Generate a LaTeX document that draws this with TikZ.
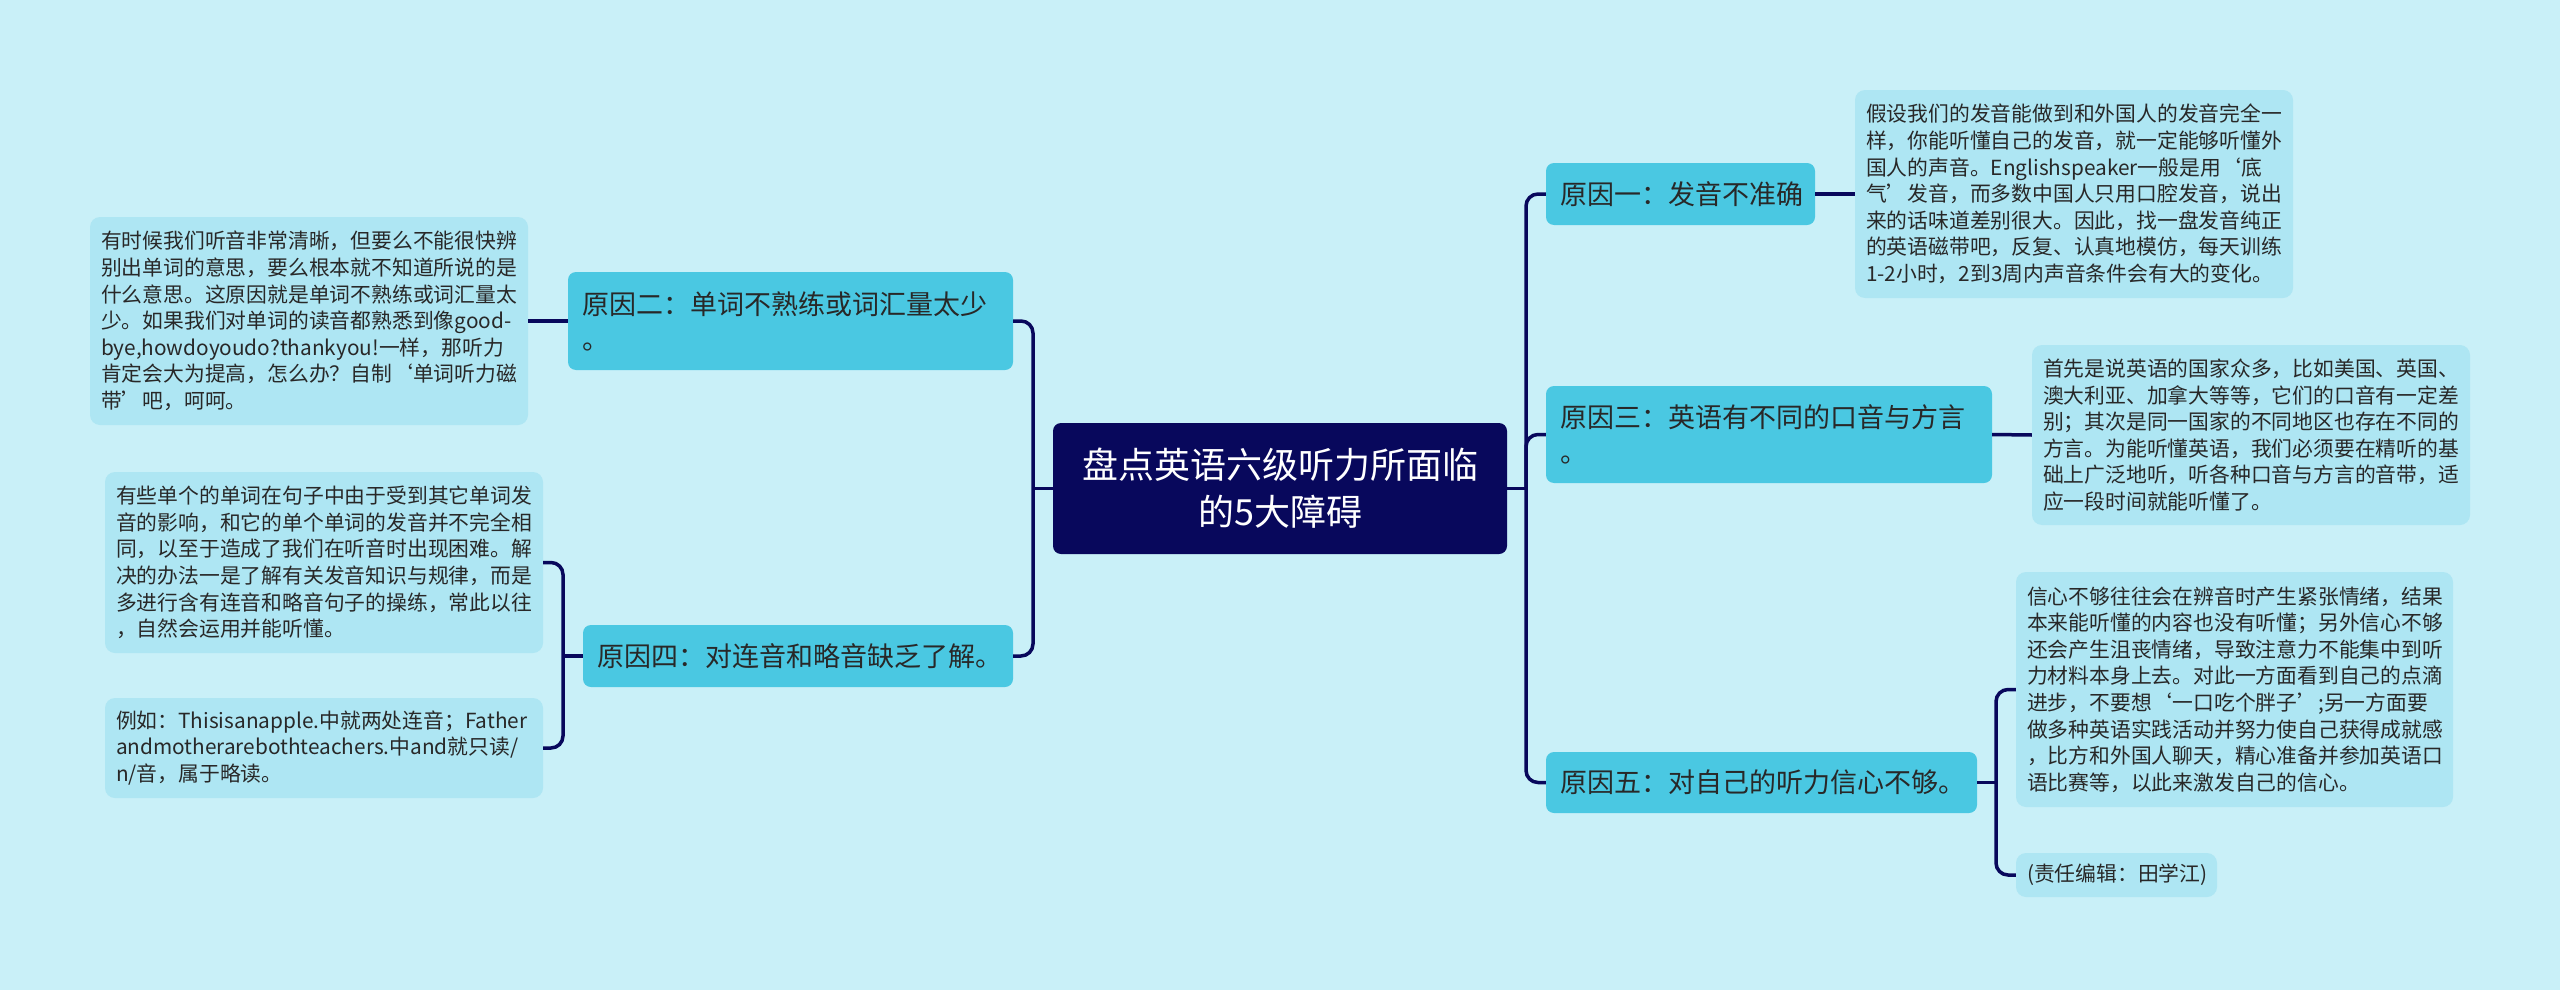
\documentclass[tikz,border=0pt]{standalone}
\usepackage{fontspec}
\setmainfont{Noto Sans CJK SC}
\definecolor{bgc}{RGB}{201,240,248}
\definecolor{lvone}{RGB}{74,200,226}
\definecolor{leafc}{RGB}{174,230,243}
\definecolor{navy}{RGB}{8,8,92}
\definecolor{txt}{RGB}{40,40,40}
\begin{document}
\begin{tikzpicture}[x=1pt,y=-1pt,
  conn/.style={draw=navy,line width=3.5pt},
  centerbox/.style={fill=navy,rounded corners=8pt,inner sep=0pt,text=white,align=center,
    font=\fontsize{36}{47}\selectfont},
  lvbox/.style={fill=lvone,rounded corners=8pt,inner sep=0pt,text=txt,align=left,
    font=\fontsize{27}{35}\selectfont},
  leafbox/.style={fill=leafc,rounded corners=10pt,inner sep=0pt,text=txt,align=left,
    font=\fontsize{20.8}{26.6}\selectfont},
  sz/.style 2 args={minimum width=#1pt,minimum height=#2pt},
]
\fill[bgc] (0,0) rectangle (2560,990);
\useasboundingbox (0,0) rectangle (2560,990);

% central
\node[centerbox,sz={454}{131},text width=430pt] (c) at (1280,488.5)
  {盘点英语六级听力所面临\\的5大障碍};

% level one
\node[lvbox,sz={269}{62},text width=241pt] (r1) at (1680.5,194) {原因一：发音不准确};
\node[lvbox,sz={446}{97},text width=418pt] (r3) at (1769,434.5) {原因三：英语有不同的口音与方言\\。};
\node[lvbox,sz={431}{61},text width=403pt] (r5) at (1761.5,782.5) {原因五：对自己的听力信心不够。};
\node[lvbox,sz={445}{98},text width=417pt] (r2) at (790.5,321) {原因二：单词不熟练或词汇量太少\\。};
\node[lvbox,sz={430}{62},text width=402pt] (r4) at (798,656) {原因四：对连音和略音缺乏了解。};

% leaves
\node[leafbox,sz={438}{208},text width=416pt] (l1) at (2074,194)
  {假设我们的发音能做到和外国人的发音完全一\\样，你能听懂自己的发音，就一定能够听懂外\\国人的声音。Englishspeaker一般是用‘底\\气’发音，而多数中国人只用口腔发音，说出\\来的话味道差别很大。因此，找一盘发音纯正\\的英语磁带吧，反复、认真地模仿，每天训练\\1-2小时，2到3周内声音条件会有大的变化。};
\node[leafbox,sz={438}{180},text width=416pt] (l3) at (2251,435)
  {首先是说英语的国家众多，比如美国、英国、\\澳大利亚、加拿大等等，它们的口音有一定差\\别；其次是同一国家的不同地区也存在不同的\\方言。为能听懂英语，我们必须要在精听的基\\础上广泛地听，听各种口音与方言的音带，适\\应一段时间就能听懂了。};
\node[leafbox,sz={437}{235},text width=415pt] (l5a) at (2234.5,689.5)
  {信心不够往往会在辨音时产生紧张情绪，结果\\本来能听懂的内容也没有听懂；另外信心不够\\还会产生沮丧情绪，导致注意力不能集中到听\\力材料本身上去。对此一方面看到自己的点滴\\进步，不要想‘一口吃个胖子’;另一方面要\\做多种英语实践活动并努力使自己获得成就感\\，比方和外国人聊天，精心准备并参加英语口\\语比赛等，以此来激发自己的信心。};
\node[leafbox,sz={201}{44},text width=179pt] (l5b) at (2116.5,875) {(责任编辑：田学江)};
\node[leafbox,sz={438}{208},text width=416pt] (l2) at (309,321)
  {有时候我们听音非常清晰，但要么不能很快辨\\别出单词的意思，要么根本就不知道所说的是\\什么意思。这原因就是单词不熟练或词汇量太\\少。如果我们对单词的读音都熟悉到像good-\\bye,howdoyoudo?thankyou!一样，那听力\\肯定会大为提高，怎么办？自制‘单词听力磁\\带’吧，呵呵。};
\node[leafbox,sz={438}{181},text width=416pt] (l4a) at (324,562.5)
  {有些单个的单词在句子中由于受到其它单词发\\音的影响，和它的单个单词的发音并不完全相\\同，以至于造成了我们在听音时出现困难。解\\决的办法一是了解有关发音知识与规律，而是\\多进行含有连音和略音句子的操练，常此以往\\，自然会运用并能听懂。};
\node[leafbox,sz={438}{100},text width=416pt] (l4b) at (324,748)
  {例如：Thisisanapple.中就两处连音；Father\\andmotherarebothteachers.中and就只读/\\n/音，属于略读。};

% junctions
\coordinate (jl) at (1033,488.5);
\coordinate (jr) at (1526,488.5);
\coordinate (j5) at (1996,782.5);
\coordinate (j4) at (563,656);

% connectors
\draw[conn] (c.west) -- (jl);
\draw[conn,rounded corners=12pt] (r2.east) -| (jl) |- (r4.east);
\draw[conn] (c.east) -- (jr);
\draw[conn,rounded corners=12pt] (r1.west) -| (jr) |- (r5.west);
\draw[conn,rounded corners=12pt] (r3.west) -| (jr);
\draw[conn] (r1.east) -- (l1.west);
\draw[conn] (r3.east) -- (l3.west);
\draw[conn] (r5.east) -- (j5);
\draw[conn,rounded corners=12pt] (l5a.west) -| (j5) |- (l5b.west);
\draw[conn] (r2.west) -- (l2.east);
\draw[conn] (r4.west) -- (j4);
\draw[conn,rounded corners=12pt] (l4a.east) -| (j4) |- (l4b.east);
\end{tikzpicture}
\end{document}
